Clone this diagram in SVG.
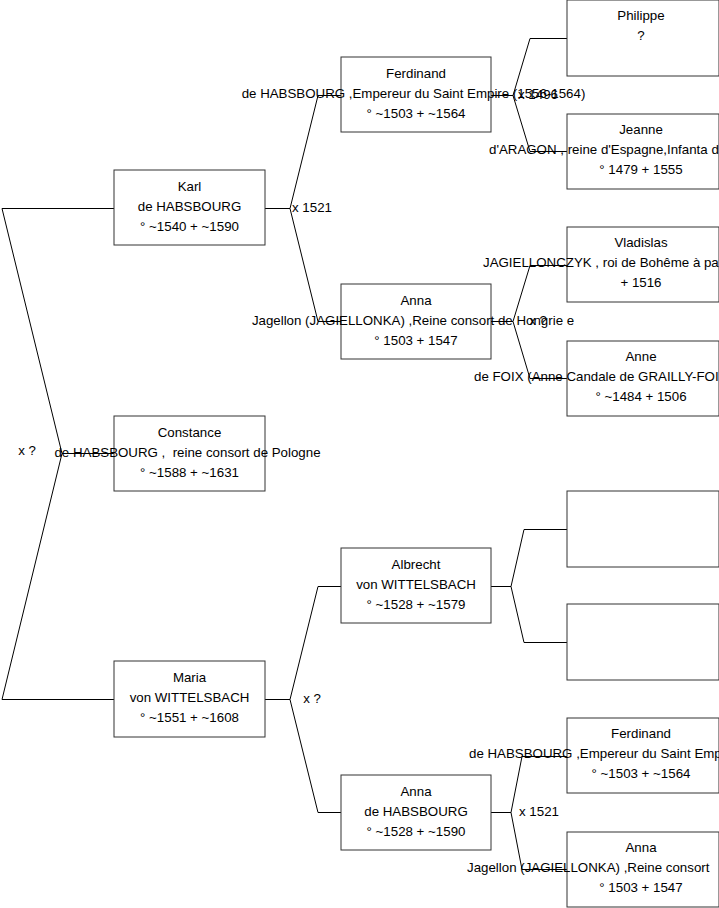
<svg xmlns="http://www.w3.org/2000/svg" width="719" height="908" viewBox="0 0 719 908">
<style>
.box{fill:#fff;stroke:#333;stroke-width:1}
.c{fill:none;stroke:#000;stroke-width:1}
text{font-family:"Liberation Sans",Arial,sans-serif;font-size:13.3px;fill:#000;white-space:pre}
.m{text-anchor:middle}
</style>
<rect width="719" height="908" fill="#fff"/>
<g id="connectors">
<polyline class="c" points="114,453.5 62,453.5 2,208.5 114,208.5"/>
<polyline class="c" points="62,453.5 2,699.5 114,699.5"/>
<polyline class="c" points="265,208.5 290,208.5 318,95.5 341,95.5"/>
<polyline class="c" points="290,208.5 318,321.5 341,321.5"/>
<polyline class="c" points="265,699.5 290,699.5 318,586.5 341,586.5"/>
<polyline class="c" points="290,699.5 318,812.5 341,812.5"/>
<polyline class="c" points="491,95.5 513,95.5 530,38.5 567,38.5"/>
<polyline class="c" points="513,95.5 530,151.5 567,151.5"/>
<polyline class="c" points="491,321.5 513,321.5 530,265.5 567,265.5"/>
<polyline class="c" points="513,321.5 530,378.5 567,378.5"/>
<polyline class="c" points="491,586.5 511,586.5 524,529.5 567,529.5"/>
<polyline class="c" points="511,586.5 524,642.5 567,642.5"/>
<polyline class="c" points="491,812.5 511,812.5 522,756.5 567,756.5"/>
<polyline class="c" points="511,812.5 522,869.5 567,869.5"/>
</g>
<g id="labels">
<text class="m" x="27" y="455">x ?</text>
<text class="m" x="312" y="212">x 1521</text>
<text class="m" x="312" y="703">x ?</text>
<text class="m" x="538" y="99">x 1496</text>
<text class="m" x="538" y="325">x ?</text>
<text class="m" x="539" y="816">x 1521</text>
</g>
<g id="karl">
<rect class="box" x="114" y="170" width="151" height="75"/>
<text class="m" x="189.5" y="191">Karl</text>
<text class="m" x="189.5" y="211">de HABSBOURG</text>
<text class="m" x="189.5" y="231">° ~1540 + ~1590</text>
</g>
<g id="constance">
<rect class="box" x="114" y="416" width="151" height="75"/>
<text class="m" x="189.5" y="437">Constance</text>
<text class="m" x="187.5" y="457">de HABSBOURG ,  reine consort de Pologne</text>
<text class="m" x="189.5" y="477">° ~1588 + ~1631</text>
</g>
<g id="maria">
<rect class="box" x="114" y="661" width="151" height="76"/>
<text class="m" x="189.5" y="682">Maria</text>
<text class="m" x="189.5" y="702">von WITTELSBACH</text>
<text class="m" x="189.5" y="722">° ~1551 + ~1608</text>
</g>
<g id="ferdinand">
<rect class="box" x="341" y="57" width="150" height="75"/>
<text class="m" x="416" y="78">Ferdinand</text>
<text class="m" x="413.5" y="98">de HABSBOURG ,Empereur du Saint Empire (1556-1564)</text>
<text class="m" x="416" y="118">° ~1503 + ~1564</text>
</g>
<g id="anna-jagellon">
<rect class="box" x="341" y="284" width="150" height="75"/>
<text class="m" x="416" y="305">Anna</text>
<text class="m" x="413" y="325">Jagellon (JAGIELLONKA) ,Reine consort de Hongrie e</text>
<text class="m" x="416" y="345">° 1503 + 1547</text>
</g>
<g id="albrecht">
<rect class="box" x="341" y="548" width="150" height="75"/>
<text class="m" x="416" y="569">Albrecht</text>
<text class="m" x="416" y="589">von WITTELSBACH</text>
<text class="m" x="416" y="609">° ~1528 + ~1579</text>
</g>
<g id="anna-habsbourg">
<rect class="box" x="341" y="775" width="150" height="75"/>
<text class="m" x="416" y="796">Anna</text>
<text class="m" x="416" y="816">de HABSBOURG</text>
<text class="m" x="416" y="836">° ~1528 + ~1590</text>
</g>
<g id="philippe">
<rect class="box" x="567" y="0" width="152" height="76"/>
<text class="m" x="641" y="20">Philippe</text>
<text class="m" x="641" y="40">?</text>
</g>
<g id="jeanne">
<rect class="box" x="567" y="114" width="152" height="75"/>
<text class="m" x="641" y="134">Jeanne</text>
<text x="489" y="154">d'ARAGON , reine d'Espagne,Infanta d</text>
<text class="m" x="641" y="174">° 1479 + 1555</text>
</g>
<g id="vladislas">
<rect class="box" x="567" y="227" width="152" height="75"/>
<text class="m" x="641" y="247">Vladislas</text>
<text x="483" y="267">JAGIELLONCZYK , roi de Bohême à pa</text>
<text class="m" x="641" y="287">+ 1516</text>
</g>
<g id="anne">
<rect class="box" x="567" y="341" width="152" height="75"/>
<text class="m" x="641" y="361">Anne</text>
<text x="474" y="381">de FOIX (Anne Candale de GRAILLY-FOI</text>
<text class="m" x="641" y="401">° ~1484 + 1506</text>
</g>
<g id="empty-1">
<rect class="box" x="567" y="491" width="152" height="76"/>
</g>
<g id="empty-2">
<rect class="box" x="567" y="604" width="152" height="76"/>
</g>
<g id="ferdinand-2">
<rect class="box" x="567" y="718" width="152" height="75"/>
<text class="m" x="641" y="738">Ferdinand</text>
<text x="469" y="758">de HABSBOURG ,Empereur du Saint Emp</text>
<text class="m" x="641" y="778">° ~1503 + ~1564</text>
</g>
<g id="anna-2">
<rect class="box" x="567" y="832" width="152" height="75"/>
<text class="m" x="641" y="852">Anna</text>
<text x="467" y="872">Jagellon (JAGIELLONKA) ,Reine consort</text>
<text class="m" x="641" y="892">° 1503 + 1547</text>
</g>
</svg>
